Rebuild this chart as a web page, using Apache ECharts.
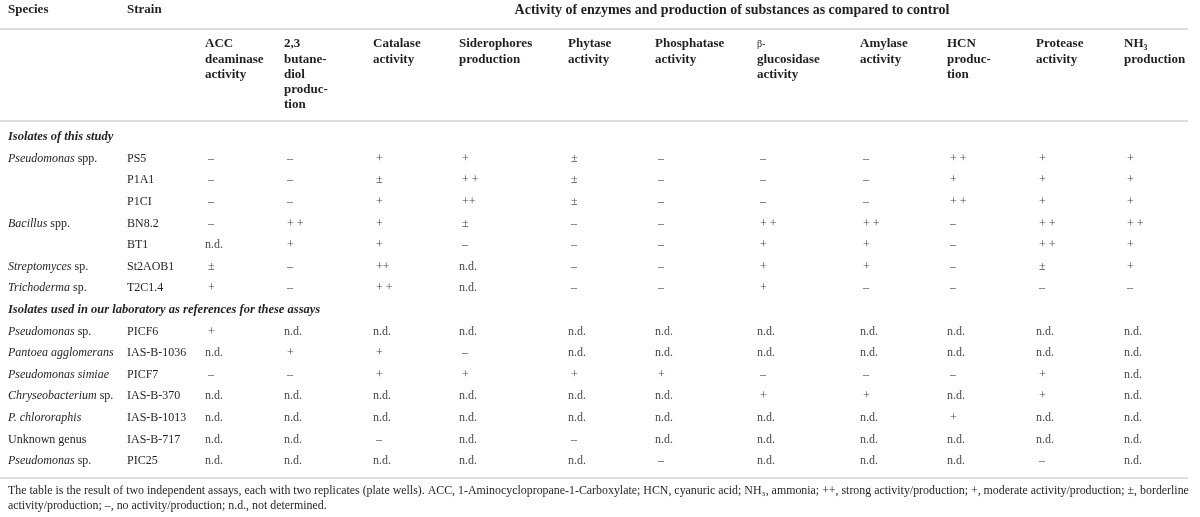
<!DOCTYPE html>
<html lang="en">
<head>
<meta charset="UTF-8">
<script src="https://cdn.jsdelivr.net/npm/echarts@6/dist/echarts.min.js"></script>
<style>
    html, body { margin: 0; padding: 0; background: #fff; }
    #pic { width: 1200px; height: 517px; }
</style>
<title>Enzyme activity table</title>
</head>
<body>
<div id="pic"></div>
<script type="text/javascript">
    // ---- table content ----
    var headTitle = 'Activity of enzymes and production of substances as compared to control';
    var headLeft = ['Species', 'Strain'];
    var columnHeads = [
        ['ACC', 'deaminase', 'activity'],
        ['2,3', 'butane-', 'diol', 'produc-', 'tion'],
        ['Catalase', 'activity'],
        ['Siderophores', 'production'],
        ['Phytase', 'activity'],
        ['Phosphatase', 'activity'],
        ['{g|β-}', 'glucosidase', 'activity'],
        ['Amylase', 'activity'],
        ['HCN', 'produc-', 'tion'],
        ['Protease', 'activity'],
        ['NH₃', 'production']
    ];
    var sections = ['Isolates of this study', 'Isolates used in our laboratory as references for these assays'];

    var species1 = ['{i|Pseudomonas} spp.', '', '', '{i|Bacillus} spp.', '', '{i|Streptomyces} sp.', '{i|Trichoderma} sp.'];
    var strains1 = ['PS5', 'P1A1', 'P1CI', 'BN8.2', 'BT1', 'St2AOB1', 'T2C1.4'];
    var values1 = [
        ['–', '–', '+', '+', '±', '–', '–', '–', '+ +', '+', '+'],
        ['–', '–', '±', '+ +', '±', '–', '–', '–', '+', '+', '+'],
        ['–', '–', '+', '++', '±', '–', '–', '–', '+ +', '+', '+'],
        ['–', '+ +', '+', '±', '–', '–', '+ +', '+ +', '–', '+ +', '+ +'],
        ['n.d.', '+', '+', '–', '–', '–', '+', '+', '–', '+ +', '+'],
        ['±', '–', '++', 'n.d.', '–', '–', '+', '+', '–', '±', '+'],
        ['+', '–', '+ +', 'n.d.', '–', '–', '+', '–', '–', '–', '–']
    ];

    var species2 = ['{i|Pseudomonas} sp.', '{i|Pantoea agglomerans}', '{i|Pseudomonas simiae}', '{i|Chryseobacterium} sp.',
        '{i|P. chlororaphis}', 'Unknown genus', '{i|Pseudomonas} sp.'];
    var strains2 = ['PICF6', 'IAS-B-1036', 'PICF7', 'IAS-B-370', 'IAS-B-1013', 'IAS-B-717', 'PIC25'];
    var values2 = [
        ['+', 'n.d.', 'n.d.', 'n.d.', 'n.d.', 'n.d.', 'n.d.', 'n.d.', 'n.d.', 'n.d.', 'n.d.'],
        ['n.d.', '+', '+', '–', 'n.d.', 'n.d.', 'n.d.', 'n.d.', 'n.d.', 'n.d.', 'n.d.'],
        ['–', '–', '+', '+', '+', '+', '–', '–', '–', '+', 'n.d.'],
        ['n.d.', 'n.d.', 'n.d.', 'n.d.', 'n.d.', 'n.d.', '+', '+', 'n.d.', '+', 'n.d.'],
        ['n.d.', 'n.d.', 'n.d.', 'n.d.', 'n.d.', 'n.d.', 'n.d.', 'n.d.', '+', 'n.d.', 'n.d.'],
        ['n.d.', 'n.d.', '–', 'n.d.', '–', 'n.d.', 'n.d.', 'n.d.', 'n.d.', 'n.d.', 'n.d.'],
        ['n.d.', 'n.d.', 'n.d.', 'n.d.', 'n.d.', '–', 'n.d.', 'n.d.', 'n.d.', '–', 'n.d.']
    ];

    var notes = [
        'The table is the result of two independent assays, each with two replicates (plate wells). ACC, 1-Aminocyclopropane-1-Carboxylate; HCN, cyanuric acid; NH₃, ammonia; ++, strong activity/production; +, moderate activity/production; ±, borderline',
        'activity/production; –, no activity/production; n.d., not determined.'
    ];

    // ---- layout (pixel units of the hidden axes) ----
    var colLeft = [8, 127, 205, 284, 373, 459, 568, 655, 757, 860, 947, 1036, 1124];
    var titleCenter = 732, headY = 10;
    var colHeadY = 44, colHeadPitch = 15.2;
    var rowY0 = 137, rowPitch = 21.6;
    var noteY = [491, 506];
    var rules = [[0, 1188, 29], [0, 1188, 121], [0, 1188, 478]];

    var FAM = '"Liberation Serif", "DejaVu Serif", serif';
    var styles = {
        title:   {fontSize: 14, fontWeight: 'bold', fontStyle: 'normal', fill: '#231f20'},
        head:    {fontSize: 13, fontWeight: 'bold', fontStyle: 'normal', fill: '#231f20'},
        section: {fontSize: 12.5, fontWeight: 'bold', fontStyle: 'italic', fill: '#231f20'},
        body:    {fontSize: 12, fontWeight: 'normal', fontStyle: 'normal', fill: '#231f20'},
        value:   {fontSize: 12, fontWeight: 'normal', fontStyle: 'normal', fill: '#4a4a4a'},
        note:    {fontSize: 11.9, fontWeight: 'normal', fontStyle: 'normal', fill: '#231f20'}
    };
    var rich = {
        i: {fontSize: 12, fontWeight: 'normal', fontStyle: 'italic', fontFamily: FAM, fill: '#231f20'},
        g: {fontSize: 10, fontWeight: 'normal', fontStyle: 'normal', fontFamily: FAM, fill: '#231f20'}
    };

    // build text cells
    var cells = [];
    headLeft.forEach(function (t, k) {
        cells.push({x: colLeft[k], y: headY, text: t, kind: 'head'});
    });
    cells.push({x: titleCenter, y: headY, text: headTitle, kind: 'title', align: 'center'});
    columnHeads.forEach(function (lines, c) {
        lines.forEach(function (t, l) {
            cells.push({x: colLeft[c + 2], y: colHeadY + l * colHeadPitch, text: t, kind: 'head'});
        });
    });

    function addBlock(startRow, title, species, strains, values) {
        cells.push({x: colLeft[0], y: rowY0 + startRow * rowPitch, text: title, kind: 'section'});
        strains.forEach(function (s, r) {
            var y = rowY0 + (startRow + 1 + r) * rowPitch;
            if (species[r]) cells.push({x: colLeft[0], y: y, text: species[r], kind: 'body'});
            cells.push({x: colLeft[1], y: y, text: s, kind: 'body'});
            values[r].forEach(function (v, c) {
                cells.push({x: colLeft[c + 2], y: y, text: v, kind: 'value', dx: v === 'n.d.' ? 0 : 3});
            });
        });
    }
    addBlock(0, sections[0], species1, strains1, values1);
    addBlock(8, sections[1], species2, strains2, values2);
    notes.forEach(function (t, k) {
        cells.push({x: colLeft[0], y: noteY[k], text: t, kind: 'note'});
    });

    function drawPic() {
        var chartDom = document.getElementById('pic');
        var myChart = echarts.init(chartDom);
        var option;

        option = {
            animation: false,
            grid: {left: 0, right: 0, top: 0, bottom: 0},
            xAxis: {type: 'value', min: 0, max: 1200, show: false},
            yAxis: {type: 'value', min: 0, max: 517, inverse: true, show: false},
            series: [
                {
                    // horizontal rules
                    type: 'custom',
                    clip: false,
                    silent: true,
                    data: rules.map(function (r) { return [r[0], r[2], r[1]]; }),
                    renderItem: function (params, api) {
                        var r = rules[params.dataIndex];
                        var a = api.coord([r[0], r[2]]);
                        var b = api.coord([r[1], r[2]]);
                        return {
                            type: 'line',
                            shape: {x1: a[0], y1: a[1], x2: b[0], y2: b[1]},
                            style: {stroke: '#d2d2d2', lineWidth: 1.5}
                        };
                    }
                },
                {
                    // table text
                    type: 'custom',
                    clip: false,
                    silent: true,
                    data: cells.map(function (c) { return [c.x, c.y]; }),
                    renderItem: function (params, api) {
                        var c = cells[params.dataIndex];
                        var st = styles[c.kind];
                        var p = api.coord([c.x, c.y]);
                        return {
                            type: 'text',
                            x: p[0] + (c.dx || 0),
                            y: p[1],
                            style: {
                                text: c.text,
                                fontSize: st.fontSize,
                                fontWeight: st.fontWeight,
                                fontStyle: st.fontStyle,
                                fontFamily: FAM,
                                fill: st.fill,
                                align: c.align || 'left',
                                verticalAlign: 'middle',
                                rich: rich
                            }
                        };
                    }
                }
            ]
        };

        option && myChart.setOption(option);
    }

    drawPic();
</script>
</body>
</html>
